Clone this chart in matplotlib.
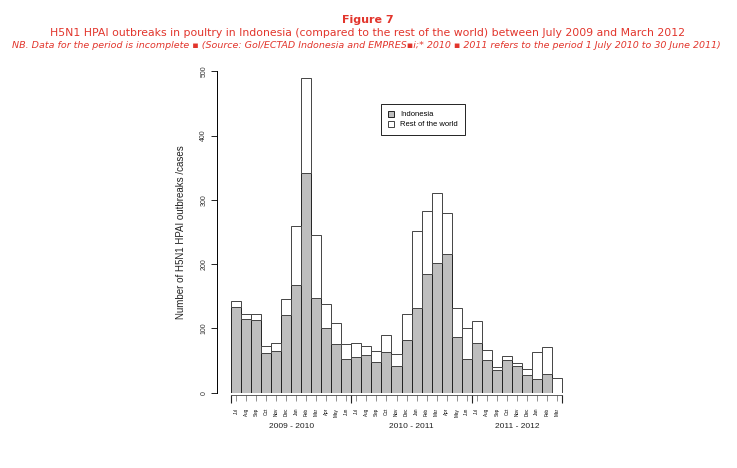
import matplotlib.pyplot as plt
import numpy as np

# monthly outbreaks, July 2009 - March 2012
months = ['Jul', 'Aug', 'Sep', 'Oct', 'Nov', 'Dec', 'Jan', 'Feb', 'Mar', 'Apr', 'May', 'Jun',
          'Jul', 'Aug', 'Sep', 'Oct', 'Nov', 'Dec', 'Jan', 'Feb', 'Mar', 'Apr', 'May', 'Jun',
          'Jul', 'Aug', 'Sep', 'Oct', 'Nov', 'Dec', 'Jan', 'Feb', 'Mar']
indonesia = [134, 115, 113, 62, 65, 121, 168, 342, 147, 101, 76, 52,
             56, 58, 48, 63, 42, 82, 132, 184, 202, 215, 86, 52,
             78, 51, 36, 51, 41, 28, 22, 29, 0]
rest_of_world = [8, 8, 10, 10, 13, 24, 92, 147, 99, 37, 33, 23,
                 22, 15, 17, 27, 18, 41, 120, 99, 108, 65, 45, 49,
                 33, 15, 4, 6, 5, 9, 42, 42, 23]
periods = ['2009 - 2010', '2010 - 2011', '2011 - 2012']
period_months = [12, 12, 9]
yticks = [0, 100, 200, 300, 400, 500]

red = '#e2352c'
W, H = 737, 468

fig = plt.figure(figsize=(W / 100, H / 100), dpi=100)

# titles
fig.text(368 / W, 1 - 20 / H, 'Figure 7', color=red, fontsize=8, fontweight='bold',
         ha='center', va='center', family='DejaVu Sans')
fig.text(367 / W, 1 - 33.5 / H,
         'H5N1 HPAI outbreaks in poultry in Indonesia (compared to the rest of the world) '
         'between July 2009 and March 2012',
         color=red, fontsize=7.8, ha='center', va='center', family='DejaVu Sans')
fig.text(366 / W, 1 - 46 / H,
         'NB. Data for the period is incomplete \u25aa (Source: GoI/ECTAD Indonesia and '
         'EMPRES\u25aai;* 2010 \u25aa 2011 refers to the period 1 July 2010 to 30 June 2011)',
         color=red, fontsize=6.8, style='italic', ha='center', va='center', family='DejaVu Sans')

# axes placed in pixels
left, right, bottom, top = 217, 570, 392.7, 71.2
ax = fig.add_axes([left / W, 1 - bottom / H, (right - left) / W, (bottom - top) / H])
x = np.arange(len(months))
bw = 1.0
px_per_unit = 10.03
ax.set_xlim(-0.5 - (231 - left) / px_per_unit, 32.5 + (right - 562) / px_per_unit)
ax.set_ylim(0, 500)

ax.bar(x, indonesia, width=bw, color='#bebebe', edgecolor='#222222', linewidth=0.7,
       label='Indonesia')
ax.bar(x, rest_of_world, bottom=indonesia, width=bw, color='white', edgecolor='#444444',
       linewidth=0.7, label='Rest of the world')

# R style axes
for s in ['top', 'right']:
    ax.spines[s].set_visible(False)
ax.spines['left'].set_bounds(0, 500)
ax.spines['left'].set_linewidth(0.7)
ax.spines['bottom'].set_bounds(-0.5, 32.5)
ax.spines['bottom'].set_position(('outward', 2))
ax.spines['bottom'].set_linewidth(0.6)
ax.spines['bottom'].set_color('#444444')

ax.set_yticks(yticks)
ax.set_yticklabels([str(v) for v in yticks], rotation=90, va='center',
                   fontsize=5, family='Liberation Sans', color='#333333')
ax.tick_params(axis='y', length=4, width=0.6, pad=3)

bounds = np.cumsum([0] + period_months) - 0.5
ax.set_xticks(bounds)
ax.set_xticklabels([])
ax.tick_params(axis='x', which='major', length=6, width=0.8, color='#222222')
ax.set_xticks(x, minor=True)
ax.set_xticklabels(months, minor=True, rotation=90, fontsize=3.3,
                   family='Liberation Sans', va='top')
ax.tick_params(axis='x', which='minor', length=4, width=0.5, color='#666666', pad=5)

# period labels
starts = np.cumsum([0] + period_months[:-1])
for p, s, n in zip(periods, starts, period_months):
    ax.text(s + (n - 1) / 2, -52, p, ha='center', va='center', fontsize=6,
            family='Liberation Sans', color='#222222', clip_on=False)

ax.set_ylabel('Number of H5N1 HPAI outbreaks /cases', fontsize=7,
              family='Liberation Sans', color='#222222', labelpad=10)

leg = ax.legend(loc='upper left', bbox_to_anchor=(381 / W, 1 - 104 / H),
                bbox_transform=fig.transFigure, frameon=True,
                fancybox=False, edgecolor='black', framealpha=1,
                handlelength=0.8, handleheight=0.8, borderpad=0.9,
                labelspacing=0.3, handletextpad=0.8, borderaxespad=0,
                prop={'family': 'Liberation Sans', 'size': 5.5})
leg.get_frame().set_linewidth(0.6)

fig.savefig('out.png', dpi=100)
